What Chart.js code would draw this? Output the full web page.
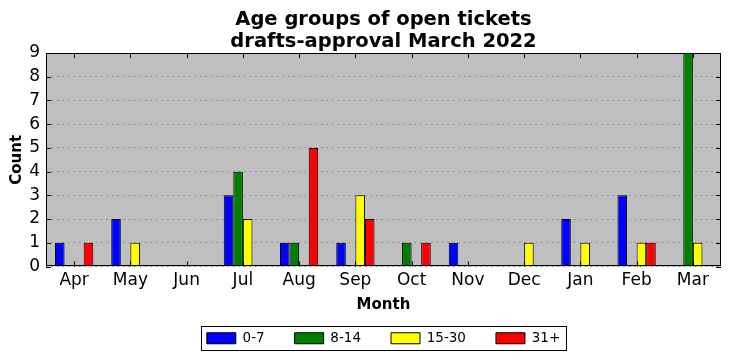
<!DOCTYPE html>
<html lang="en">
<head>
    <meta charset="UTF-8">
    <title>Age groups of open tickets</title>
    <script src="https://cdn.jsdelivr.net/npm/chart.js"></script>
    <style>
        html, body { margin: 0; padding: 0; background: #fff; }
        #contenedor { width: 731px; height: 361px; }
    </style>
</head>
<body>
    <div id="contenedor">
        <canvas id="canvas"></canvas>
    </div>

    <script>
        const meses = ['Apr', 'May', 'Jun', 'Jul', 'Aug', 'Sep', 'Oct', 'Nov', 'Dec', 'Jan', 'Feb', 'Mar']
        const grupo0a7 = [1, 2, 0, 3, 1, 1, 0, 1, 0, 2, 3, 0]
        const grupo8a14 = [0, 0, 0, 4, 1, 0, 1, 0, 0, 0, 0, 9]
        const grupo15a30 = [0, 1, 0, 2, 0, 3, 0, 0, 1, 1, 1, 1]
        const grupo31 = [1, 0, 0, 0, 5, 2, 1, 0, 0, 0, 1, 0]
        const ticksY = [0, 1, 2, 3, 4, 5, 6, 7, 8, 9]

        const fuente = 'DejaVu Sans'

        // fondo gris, marco y ticks hacia dentro estilo matplotlib
        const marco = {
            id: 'marco',
            beforeDraw(chart) {
                const { ctx, chartArea: a } = chart
                ctx.save()
                ctx.fillStyle = '#bfbfbf'
                ctx.fillRect(a.left, a.top, a.right - a.left, a.bottom - a.top)
                ctx.restore()
            },
            afterDatasetsDraw(chart) {
                const { ctx, chartArea: a, scales } = chart
                ctx.save()
                ctx.strokeStyle = '#000'
                ctx.lineWidth = 1
                ctx.beginPath()
                for (let i = 0; i < meses.length; i++) {
                    const x = Math.round(scales.x.getPixelForValue(i)) + 0.5
                    ctx.moveTo(x, a.bottom); ctx.lineTo(x, a.bottom - 5)
                    ctx.moveTo(x, a.top); ctx.lineTo(x, a.top + 5)
                }
                for (const v of ticksY) {
                    const y = Math.round(scales.y.getPixelForValue(v)) + 0.5
                    ctx.moveTo(a.left, y); ctx.lineTo(a.left + 5, y)
                    ctx.moveTo(a.right, y); ctx.lineTo(a.right - 5, y)
                }
                ctx.stroke()
                ctx.strokeRect(Math.round(a.left) + 0.5, Math.round(a.top) + 0.5,
                    Math.round(a.right - a.left) - 1, Math.round(a.bottom - a.top) - 1)
                ctx.restore()
            },
            afterDraw(chart) {
                const cajas = chart.legend.legendHitBoxes
                if (!cajas || !cajas.length) return
                let izq = Infinity, der = -Infinity, arriba = Infinity, abajo = -Infinity
                for (const c of cajas) {
                    izq = Math.min(izq, c.left)
                    der = Math.max(der, c.left + c.width)
                    arriba = Math.min(arriba, c.top)
                    abajo = Math.max(abajo, c.top + c.height)
                }
                const { ctx } = chart
                ctx.save()
                ctx.strokeStyle = '#000'
                ctx.lineWidth = 1
                const x0 = Math.round(izq - 6) + 0.5
                const y0 = Math.round(arriba - 6) + 0.5
                ctx.strokeRect(x0, y0, Math.round(der + 6 - x0), Math.round(abajo + 5 - y0))
                ctx.restore()
            }
        }

        function serie(label, data, color) {
            return {
                label: label,
                data: data,
                backgroundColor: color,
                borderColor: '#000',
                borderWidth: 1,
                borderSkipped: false,
                categoryPercentage: 0.68,
                barPercentage: 1.0
            }
        }

        const ctx = document.getElementById('canvas')
        let graph = new Chart(ctx, {
            type: 'bar',
            data: {
                labels: meses,
                datasets: [
                    serie('0-7', grupo0a7, '#0000ff'),
                    serie('8-14', grupo8a14, '#008000'),
                    serie('15-30', grupo15a30, '#ffff00'),
                    serie('31+', grupo31, '#ff0000')
                ]
            },
            plugins: [marco],
            options: {
                responsive: true,
                maintainAspectRatio: false,
                animation: false,
                layout: { padding: { left: 8, right: 10, top: 0, bottom: 6 } },
                plugins: {
                    title: {
                        display: true,
                        fullSize: false,
                        text: ['Age groups of open tickets', 'drafts-approval March 2022'],
                        color: '#000',
                        font: { family: fuente, size: 19.5, weight: 'bold', lineHeight: 1.13 },
                        padding: { top: 9, bottom: 0 }
                    },
                    legend: {
                        position: 'bottom',
                        fullSize: false,
                        labels: {
                            color: '#000',
                            boxWidth: 29,
                            boxHeight: 11,
                            padding: 30,
                            font: { family: fuente, size: 13.5 }
                        }
                    },
                    tooltip: { enabled: false }
                },
                scales: {
                    x: {
                        afterFit(scale) { scale.height = 35 },
                        grid: { display: false, drawTicks: false },
                        border: { display: false },
                        ticks: { color: '#000', font: { family: fuente, size: 17 }, padding: 4 },
                        title: {
                            display: true, text: 'Month', color: '#000',
                            font: { family: fuente, size: 15, weight: 'bold' },
                            padding: { top: 0, bottom: -13 }
                        }
                    },
                    y: {
                        min: 0,
                        max: 9,
                        afterFit(scale) { scale.width = 38 },
                        grid: {
                            color: '#888888',
                            lineWidth: 1,
                            drawTicks: false
                        },
                        border: { display: false, dash: [1.5, 4] },
                        ticks: {
                            color: '#000', font: { family: fuente, size: 17 }, padding: 6,
                            stepSize: 1, autoSkip: false
                        },
                        title: {
                            display: true, text: 'Count', color: '#000',
                            font: { family: fuente, size: 15, weight: 'bold' },
                            padding: { top: 0, bottom: 0 }
                        }
                    }
                }
            }
        })
    </script>
</body>
</html>
